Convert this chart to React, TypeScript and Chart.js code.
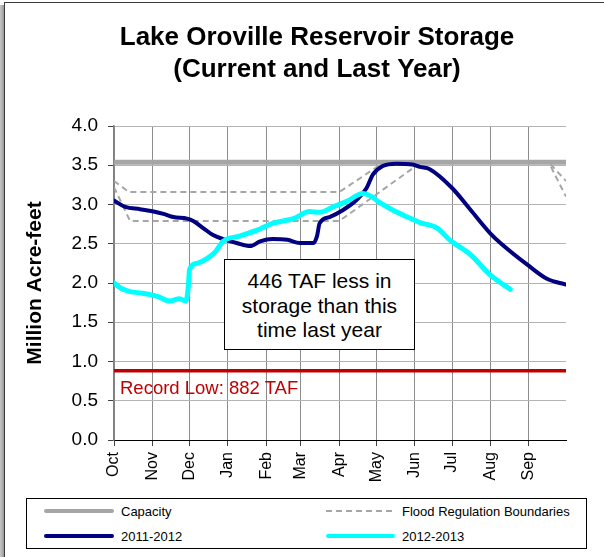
import React, { useEffect, useRef } from 'react';
import { Chart, registerables } from 'chart.js';

Chart.register(...registerables);

const FONT = "'Liberation Sans', Arial, Helvetica, sans-serif";

// Water-year day index (0 = Oct 1)
const monthLabels = ['Oct', 'Nov', 'Dec', 'Jan', 'Feb', 'Mar', 'Apr', 'May', 'Jun', 'Jul', 'Aug', 'Sep'];
const monthStartDays = [0, 31, 61, 92, 123, 151, 182, 212, 243, 273, 304, 335];
const yTicks = [0, 0.5, 1, 1.5, 2, 2.5, 3, 3.5, 4];

const CAPACITY = 3.538;
const RECORD_LOW = 0.882;

const floodUpperDays = [0, 12, 182, 218, 351, 365];
const floodUpperValues = [3.3, 3.16, 3.16, 3.538, 3.538, 3.3];
const floodLowerDays = [0, 13, 182, 248, 351, 365];
const floodLowerValues = [3.22, 2.79, 2.79, 3.538, 3.538, 3.1];

const lastYearDays = [0, 9, 21, 32, 40, 48, 59, 64, 72, 80, 88, 99, 110, 118, 128, 140, 150, 161, 164, 166, 174, 185, 196, 204, 209, 217, 228, 241, 247, 255, 273, 288, 304, 312, 334, 350, 365];
const lastYearValues = [3.05, 2.97, 2.94, 2.91, 2.88, 2.84, 2.82, 2.79, 2.7, 2.61, 2.56, 2.51, 2.47, 2.53, 2.56, 2.55, 2.51, 2.51, 2.6, 2.76, 2.84, 2.93, 3.06, 3.21, 3.38, 3.49, 3.52, 3.51, 3.48, 3.45, 3.21, 2.93, 2.63, 2.51, 2.23, 2.05, 1.98];

const currentDays = [0, 6, 13, 23, 35, 45, 53, 58, 60, 61, 67, 75, 82, 88, 102, 115, 128, 145, 158, 166, 177, 188, 201, 207, 215, 225, 237, 247, 261, 271, 288, 304, 320];
const currentValues = [2.0, 1.93, 1.89, 1.87, 1.83, 1.77, 1.8, 1.77, 1.95, 2.17, 2.25, 2.31, 2.4, 2.53, 2.6, 2.67, 2.76, 2.82, 2.91, 2.9, 2.97, 3.04, 3.14, 3.11, 3.02, 2.93, 2.84, 2.77, 2.7, 2.55, 2.36, 2.1, 1.92];

const toPoints = (xs: number[], ys: number[]) => xs.map((x, i) => ({ x, y: ys[i] }));

export default function App() {
  const ref = useRef<HTMLCanvasElement>(null);

  useEffect(() => {
    if (!ref.current) return;
    const chart = new Chart(ref.current, {
      type: 'line',
      data: {
        datasets: [
          {
            label: '2012-2013',
            data: toPoints(currentDays, currentValues),
            borderColor: '#00ffff',
            borderWidth: 5,
            pointRadius: 0,
            cubicInterpolationMode: 'monotone',
            borderCapStyle: 'round',
            borderJoinStyle: 'round',
            order: 0,
          },
          {
            label: '2011-2012',
            data: toPoints(lastYearDays, lastYearValues),
            borderColor: '#000080',
            borderWidth: 4,
            pointRadius: 0,
            cubicInterpolationMode: 'monotone',
            borderCapStyle: 'round',
            borderJoinStyle: 'round',
            order: 1,
          },
          {
            label: 'Record Low',
            data: toPoints([0, 365], [RECORD_LOW, RECORD_LOW]),
            borderColor: '#c00000',
            borderWidth: 3.5,
            pointRadius: 0,
            order: 2,
          },
          {
            label: 'Capacity',
            data: toPoints([0, 365], [CAPACITY, CAPACITY]),
            borderColor: '#a6a6a6',
            borderWidth: 5,
            pointRadius: 0,
            order: 3,
          },
          {
            label: 'Flood Regulation Boundaries',
            data: toPoints(floodUpperDays, floodUpperValues),
            borderColor: '#a6a6a6',
            borderWidth: 2,
            borderDash: [6, 4],
            pointRadius: 0,
            order: 4,
          },
          {
            label: 'Flood Regulation Boundaries (lower)',
            data: toPoints(floodLowerDays, floodLowerValues),
            borderColor: '#a6a6a6',
            borderWidth: 2,
            borderDash: [6, 4],
            pointRadius: 0,
            order: 4,
          },
        ],
      },
      options: {
        responsive: false,
        animation: false,
        layout: { padding: { left: 10, right: 0, top: 0, bottom: 0 } },
        plugins: {
          legend: { display: false },
          tooltip: { enabled: false },
          title: {
            display: true,
            text: ['Lake Oroville Reservoir Storage', '(Current and Last Year)'],
            color: '#000',
            font: { family: FONT, size: 26, weight: 'bold', lineHeight: 32 / 26 },
            padding: { top: 22, bottom: 40 },
          },
        },
        scales: {
          x: {
            type: 'linear',
            min: 0,
            max: 365,
            afterBuildTicks: (scale: any) => {
              scale.ticks = monthStartDays.map((v) => ({ value: v }));
            },
            afterFit: (scale: any) => {
              scale.height = 50;
            },
            ticks: {
              autoSkip: false,
              minRotation: 90,
              maxRotation: 90,
              padding: 6,
              color: '#000',
              font: { family: FONT, size: 16 },
              callback: (value: any) => {
                const i = monthStartDays.indexOf(Number(value));
                return i >= 0 ? monthLabels[i] : '';
              },
            },
            grid: { color: '#8c8c8c', tickColor: '#404040', tickLength: 6, lineWidth: 1 },
            border: { color: '#000', width: 1 },
          },
          y: {
            type: 'linear',
            position: 'left',
            min: 0,
            max: 4,
            afterBuildTicks: (scale: any) => {
              scale.ticks = yTicks.map((v) => ({ value: v }));
            },
            afterFit: (scale: any) => {
              scale.width = 104;
            },
            ticks: {
              padding: 10,
              color: '#000',
              font: { family: FONT, size: 19 },
              callback: (value: any) => Number(value).toFixed(1),
            },
            grid: { color: '#b4b4b4', tickColor: '#404040', tickLength: 6, lineWidth: 1 },
            border: { color: '#7f7f7f', width: 1.5 },
            title: {
              display: true,
              text: 'Million Acre-feet',
              color: '#000',
              font: { family: FONT, size: 21, weight: 'bold' },
              padding: { top: 13, bottom: 0 },
            },
          },
          y2: {
            type: 'linear',
            position: 'right',
            display: true,
            afterFit: (scale: any) => {
              scale.width = 58;
            },
            ticks: { display: false },
            grid: { drawOnChartArea: false, drawTicks: false },
            border: { display: false },
          },
        },
      },
    });
    return () => chart.destroy();
  }, []);

  const legendText: React.CSSProperties = {
    position: 'absolute',
    fontFamily: FONT,
    fontSize: 13,
    lineHeight: '15px',
    color: '#000',
    whiteSpace: 'nowrap',
  };

  return (
    <div
      style={{
        position: 'absolute',
        left: 0,
        top: 0,
        width: 604,
        height: 557,
        overflow: 'hidden',
        background: '#fff',
        fontFamily: FONT,
      }}
    >
      {/* frame */}
      <div style={{ position: 'absolute', left: 0, top: 5, width: 4, height: 560, background: 'linear-gradient(to right, #c8c8c8, #9a9a9a)' }} />
      <div style={{ position: 'absolute', left: 4, top: 2, width: 700, height: 600, borderLeft: '1px solid #3a3a3a', borderTop: '1px solid #3a3a3a' }} />

      <div style={{ position: 'absolute', left: 0, top: 0, width: 624, height: 490 }}>
        <canvas ref={ref} width={624} height={490} style={{ width: 624, height: 490, display: 'block' }} />
      </div>

      {/* record low label */}
      <div style={{ position: 'absolute', left: 120, top: 379, fontSize: 18.5, lineHeight: '18.5px', color: '#c00000', whiteSpace: 'nowrap' }}>
        Record Low: 882 TAF
      </div>

      {/* annotation */}
      <div
        style={{
          position: 'absolute',
          left: 224,
          top: 259,
          width: 191,
          height: 91,
          border: '1px solid #000',
          background: '#fff',
          textAlign: 'center',
          fontSize: 21,
          lineHeight: '24.5px',
          paddingTop: 9,
          boxSizing: 'border-box',
          color: '#000',
        }}
      >
        446 TAF less in
        <br />
        storage than this
        <br />
        time last year
      </div>

      {/* legend */}
      <div style={{ position: 'absolute', left: 26, top: 498, width: 561, height: 51, border: '1px solid #000', boxSizing: 'border-box', background: '#fff' }} />
      <div style={{ position: 'absolute', left: 44, top: 509, width: 70, height: 4, borderRadius: 2, background: '#a6a6a6' }} />
      <div style={{ ...legendText, left: 121, top: 504 }}>Capacity</div>
      <div style={{ position: 'absolute', left: 44, top: 534, width: 70, height: 4, borderRadius: 2, background: '#000080' }} />
      <div style={{ ...legendText, left: 121, top: 529 }}>2011-2012</div>
      <div
        style={{
          position: 'absolute',
          left: 326,
          top: 510,
          width: 69,
          height: 2,
          background: 'repeating-linear-gradient(to right, #a6a6a6 0px, #a6a6a6 6px, transparent 6px, transparent 10px)',
        }}
      />
      <div style={{ ...legendText, left: 402, top: 504 }}>Flood Regulation Boundaries</div>
      <div style={{ position: 'absolute', left: 326, top: 534, width: 69, height: 4, borderRadius: 2, background: '#00ffff' }} />
      <div style={{ ...legendText, left: 402, top: 529 }}>2012-2013</div>
    </div>
  );
}
